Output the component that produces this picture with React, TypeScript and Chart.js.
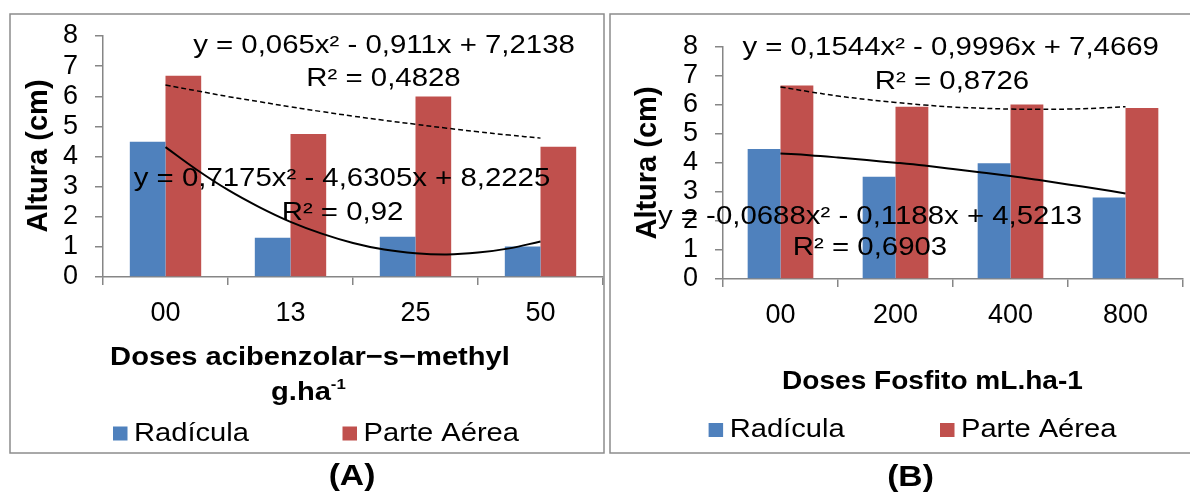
import React, { useEffect, useRef } from 'react';
import { Chart, registerables } from 'chart.js';

Chart.register(...registerables);

// ---------- data ----------
const categoriesA = ['00', '13', '25', '50'];
const radiculaA = [4.49, 1.30, 1.34, 1.01];
const parteAereaA = [6.68, 4.75, 5.99, 4.32];

const categoriesB = ['00', '200', '400', '800'];
const radiculaB = [4.48, 3.53, 3.99, 2.81];
const parteAereaB = [6.67, 5.94, 6.02, 5.90];

// category positions on the x axis
const catPos = [1, 2, 3, 4];
const yTickLabels = ['0', '1', '2', '3', '4', '5', '6', '7', '8'];

// trendline readings (category position 1..4)
const trendX = [1, 1.25, 1.5, 1.75, 2, 2.25, 2.5, 2.75, 3, 3.25, 3.5, 3.75, 4];
const trendRadA = [4.31, 3.56, 2.89, 2.32, 1.83, 1.44, 1.13, 0.91, 0.79, 0.75, 0.81, 0.95, 1.18];
const trendAereaA = [6.37, 6.18, 5.99, 5.82, 5.65, 5.49, 5.34, 5.2, 5.07, 4.94, 4.82, 4.71, 4.61];
const trendRadB = [4.33, 4.27, 4.19, 4.1, 4.01, 3.91, 3.79, 3.67, 3.55, 3.41, 3.26, 3.11, 2.95];
const trendAereaB = [6.62, 6.46, 6.31, 6.19, 6.09, 6.0, 5.93, 5.89, 5.86, 5.85, 5.86, 5.89, 5.94];

const eqA = ['y = 0,065x² - 0,911x + 7,2138', 'R² = 0,4828', 'y = 0,7175x² - 4,6305x + 8,2225', 'R² = 0,92'];
const eqB = ['y = 0,1544x² - 0,9996x + 7,4669', 'R² = 0,8726', 'y = -0,0688x² - 0,1188x + 4,5213', 'R² = 0,6903'];
const seriesNames = ['Radícula', 'Parte Aérea'];

// ---------- style ----------
const W = 1190;
const H = 494;
const BLUE = '#4F81BD';
const RED = '#C0504D';
const AXIS = '#868686';
const FAMILY = '"Liberation Sans", Arial, sans-serif';
const SX = 1.12;

Chart.defaults.font.family = FAMILY;

function txt(ctx: CanvasRenderingContext2D, s: string, x: number, y: number, size: number, bold: boolean, align: CanvasTextAlign = 'center', sx = SX) {
  ctx.save();
  ctx.font = `${bold ? 'bold ' : ''}${size}px ${FAMILY}`;
  ctx.textAlign = align;
  ctx.textBaseline = 'middle';
  ctx.fillStyle = '#000';
  ctx.translate(x, y);
  ctx.scale(sx, 1);
  ctx.fillText(s, 0, 0);
  ctx.restore();
}

function measure(ctx: CanvasRenderingContext2D, s: string, size: number, bold: boolean, sx = SX) {
  ctx.save();
  ctx.font = `${bold ? 'bold ' : ''}${size}px ${FAMILY}`;
  const w = ctx.measureText(s).width * sx;
  ctx.restore();
  return w;
}

type Panel = {
  cats: string[];
  rad: number[];
  aerea: number[];
  tRad: number[];
  tAerea: number[];
  eq: string[];
  area: { left: number; right: number; top: number; bottom: number };
  eqPos: [number, number][];
  yTitle: [number, number];
  xTitle: (ctx: CanvasRenderingContext2D) => void;
  legend: { sq: [number, number]; tx: [number, number]; y: number };
  caption: [string, number, number];
  border: [number, number, number, number];
};

const panelA: Panel = {
  cats: categoriesA,
  rad: radiculaA,
  aerea: parteAereaA,
  tRad: trendRadA,
  tAerea: trendAereaA,
  eq: eqA,
  area: { left: 103, right: 603, top: 36, bottom: 277 },
  eqPos: [[384, 46], [383.5, 79], [342, 179], [342.5, 213]],
  yTitle: [38.5, 156],
  xTitle: (ctx) => {
    txt(ctx, 'Doses acibenzolar−s−methyl', 310, 358, 26, true);
    const w = measure(ctx, 'g.ha', 26, true);
    txt(ctx, 'g.ha', 271, 393, 26, true, 'left');
    txt(ctx, '-1', 271 + w, 385, 15, true, 'left');
  },
  legend: { sq: [113, 342.5], tx: [134, 363.6], y: 433.5 },
  caption: ['(A)', 352, 477],
  border: [10, 14, 604, 453],
};

const panelB: Panel = {
  cats: categoriesB,
  rad: radiculaB,
  aerea: parteAereaB,
  tRad: trendRadB,
  tAerea: trendAereaB,
  eq: eqB,
  area: { left: 723, right: 1183, top: 47, bottom: 279 },
  eqPos: [[950.7, 48.3], [952, 81.7], [870, 217.3], [870, 248.3]],
  yTitle: [647.5, 163],
  xTitle: (ctx) => {
    txt(ctx, 'Doses Fosfito mL.ha-1', 932.5, 381.7, 25.5, true, 'center', 1.1);
  },
  legend: { sq: [708.6, 940], tx: [729.7, 961], y: 430 },
  caption: ['(B)', 910.5, 478],
  border: [610, 14, 1196, 453],
};

function makeConfig(P: Panel): any {
  const tickFont = { family: FAMILY, size: 27 };
  const overlay = {
    id: 'overlay',
    afterDraw(chart: any) {
      const ctx: CanvasRenderingContext2D = chart.ctx;
      // panel border
      ctx.save();
      ctx.strokeStyle = '#8c8c8c';
      ctx.lineWidth = 1.5;
      const [x0, y0, x1, y1] = P.border;
      ctx.strokeRect(x0, y0, x1 - x0, y1 - y0);
      ctx.restore();
      // trendline equations
      P.eq.forEach((s, i) => txt(ctx, s, P.eqPos[i][0], P.eqPos[i][1], 26, false, 'center', 1.13));
      // y axis title
      ctx.save();
      ctx.translate(P.yTitle[0], P.yTitle[1]);
      ctx.rotate(-Math.PI / 2);
      ctx.font = `bold 29px ${FAMILY}`;
      ctx.textAlign = 'center';
      ctx.textBaseline = 'middle';
      ctx.fillStyle = '#000';
      ctx.fillText('Altura (cm)', 0, 0);
      ctx.restore();
      // x axis title
      P.xTitle(ctx);
      // legend
      const colors = [BLUE, RED];
      for (let i = 0; i < 2; i++) {
        ctx.fillStyle = colors[i];
        ctx.fillRect(P.legend.sq[i], P.legend.y - 7, 14.5, 14);
        txt(ctx, seriesNames[i], P.legend.tx[i], P.legend.y, 26, false, 'left');
      }
      // caption
      txt(ctx, P.caption[0], P.caption[1], P.caption[2], 30, true);
    },
  };

  return {
    type: 'bar',
    data: {
      datasets: [
        {
          type: 'line',
          label: 'trend ' + seriesNames[0],
          data: trendX.map((x, i) => ({ x, y: P.tRad[i] })),
          borderColor: '#000',
          borderWidth: 2,
          pointRadius: 0,
          tension: 0.4,
          fill: false,
          order: 0,
        },
        {
          type: 'line',
          label: 'trend ' + seriesNames[1],
          data: trendX.map((x, i) => ({ x, y: P.tAerea[i] })),
          borderColor: '#000',
          borderWidth: 1.5,
          borderDash: [5, 3],
          pointRadius: 0,
          tension: 0.4,
          fill: false,
          order: 0,
        },
        {
          type: 'bar',
          label: seriesNames[0],
          data: catPos.map((x, i) => ({ x, y: P.rad[i] })),
          backgroundColor: BLUE,
          categoryPercentage: 0.571,
          barPercentage: 1,
          order: 1,
        },
        {
          type: 'bar',
          label: seriesNames[1],
          data: catPos.map((x, i) => ({ x, y: P.aerea[i] })),
          backgroundColor: RED,
          categoryPercentage: 0.571,
          barPercentage: 1,
          order: 1,
        },
      ],
    },
    options: {
      responsive: false,
      maintainAspectRatio: false,
      animation: false,
      events: [],
      layout: { padding: { left: 0, top: P.area.top, right: W - P.area.right, bottom: 0 } },
      plugins: { legend: { display: false }, tooltip: { enabled: false }, title: { display: false } },
      scales: {
        x: {
          type: 'linear',
          position: 'bottom',
          min: 0.5,
          max: 4.5,
          offset: false,
          afterBuildTicks: (s: any) => {
            s.ticks = catPos.map((v) => ({ value: v }));
          },
          grid: { offset: true, drawOnChartArea: false, drawTicks: true, tickLength: 8, color: AXIS, lineWidth: 1.5 },
          border: { display: true, color: AXIS, width: 1.5 },
          ticks: {
            font: tickFont,
            color: '#000',
            padding: 12,
            maxRotation: 0,
            autoSkip: false,
            callback: (v: number) => P.cats[Math.round(v) - 1],
          },
          afterFit: (s: any) => {
            s.height = H - P.area.bottom;
          },
        },
        y: {
          type: 'linear',
          position: 'left',
          min: 0,
          max: 8,
          ticks: {
            stepSize: 1,
            autoSkip: false,
            font: tickFont,
            color: '#000',
            padding: 17,
            callback: (v: number) => yTickLabels[v],
          },
          grid: { drawOnChartArea: false, drawTicks: true, tickLength: 8, color: AXIS, lineWidth: 1.5 },
          border: { display: true, color: AXIS, width: 1.5 },
          afterFit: (s: any) => {
            s.width = P.area.left;
          },
        },
      },
    },
    plugins: [overlay],
  };
}

function PanelChart({ panel }: { panel: Panel }) {
  const ref = useRef<HTMLCanvasElement | null>(null);
  useEffect(() => {
    if (!ref.current) return;
    const chart = new Chart(ref.current, makeConfig(panel));
    return () => chart.destroy();
  }, [panel]);
  return (
    <canvas
      ref={ref}
      width={W}
      height={H}
      style={{ position: 'absolute', left: 0, top: 0, width: W, height: H }}
    />
  );
}

export default function App() {
  return (
    <div style={{ position: 'absolute', left: 0, top: 0, width: W, height: H, background: '#fff', overflow: 'hidden' }}>
      <PanelChart panel={panelA} />
      <PanelChart panel={panelB} />
    </div>
  );
}
